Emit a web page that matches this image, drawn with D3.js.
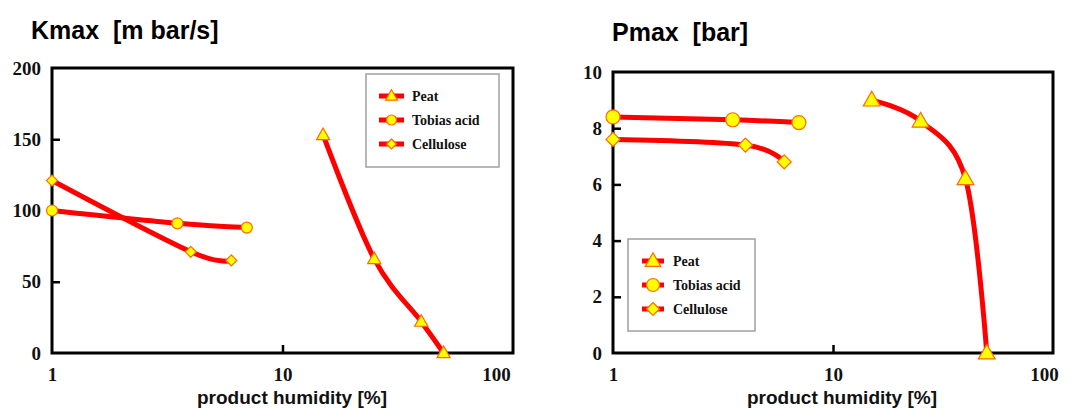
<!DOCTYPE html>
<html>
<head>
<meta charset="utf-8">
<script src="https://cdn.jsdelivr.net/npm/d3@7/dist/d3.min.js"></script>
<style>
  body { margin: 0; background: #fff; }
  svg text { white-space: pre; }
</style>
</head>
<body>
<div id="chart"></div>
<script>
// product humidity [%] per series
const humidityPeat = [15, 25, 40, 50];
const humidityTobias = [1, 3.5, 7];
const humidityCellulose = [1, 4, 6];
// Kmax [m bar/s]
const kmaxPeat = [153, 66, 22, 0];
const kmaxTobias = [100, 91, 88];
const kmaxCellulose = [121, 71, 65];
// Pmax [bar]
const pmaxPeat = [9.0, 8.25, 6.2, 0];
const pmaxTobias = [8.4, 8.3, 8.2];
const pmaxCellulose = [7.6, 7.4, 6.8];

const seriesNames = ["Peat", "Tobias acid", "Cellulose"];
const seriesMarkers = ["triangle", "circle", "diamond"];
const xTicks = [1, 10, 100];
const kmaxTicks = [0, 50, 100, 150, 200];
const pmaxTicks = [0, 2, 4, 6, 8, 10];

const svg = d3.select("#chart").append("svg").attr("width", 1075).attr("height", 408);

function markerPath(type, r) {
  if (type == "circle") return d3.symbol(d3.symbolCircle, Math.PI * r * r)();
  if (type == "diamond") return "M0," + (-r) + "L" + r + ",0L0," + r + "L" + (-r) + ",0Z";
  // triangle, apex up, a bit larger than the others
  r = r * 1.2;
  let h = r * 1.75;
  return "M0," + (-h * 0.6) + "L" + r + "," + (h * 0.4) + "L" + (-r) + "," + (h * 0.4) + "Z";
}

function drawChart(opt) {
  const g = svg.append("g");
  const x = d3.scaleLog().domain([1, 100]).range([opt.left, opt.right]);
  const y = d3.scaleLinear().domain(opt.yDomain).range([opt.bottom, opt.top]);

  g.append("text").attr("x", opt.titleX).attr("y", opt.titleY)
    .attr("font-family", "Liberation Sans, Arial").attr("font-weight", "bold")
    .attr("font-size", 25).text(opt.title);

  const yAxis = d3.axisLeft(y).tickValues(opt.yTicks).tickSizeInner(-8).tickSizeOuter(0)
    .tickPadding(11).tickFormat(d3.format("d"));
  const ya = g.append("g").attr("transform", "translate(" + opt.left + ",0)").call(yAxis);
  const xAxis = d3.axisBottom(x).tickValues(xTicks).tickSizeInner(-8).tickSizeOuter(0)
    .tickPadding(15).tickFormat(d3.format("d"));
  const xa = g.append("g").attr("transform", "translate(0," + opt.bottom + ")").call(xAxis);
  [ya, xa].forEach(a => {
    a.select(".domain").remove();
    a.selectAll(".tick line").attr("stroke", "#000").attr("stroke-width", 2.5);
    a.selectAll(".tick text").attr("font-family", "Liberation Serif, Times New Roman")
      .attr("font-weight", "bold").attr("font-size", 19).attr("fill", "#111");
  });
  xa.selectAll(".tick line").filter(d => d == 1 || d == 100).remove();
  xa.selectAll(".tick text").filter(d => d == 100).attr("dx", opt.lastLabelDx);
  ya.selectAll(".tick line").filter(d => d == opt.yDomain[0] || d == opt.yDomain[1]).remove();

  g.append("rect").attr("x", opt.left).attr("y", opt.top)
    .attr("width", opt.right - opt.left).attr("height", opt.bottom - opt.top)
    .attr("fill", "none").attr("stroke", "#000").attr("stroke-width", 3);

  g.append("text").attr("x", opt.xLabelX).attr("y", 404)
    .attr("text-anchor", "middle").attr("font-family", "Liberation Sans, Arial")
    .attr("font-weight", "bold").attr("font-size", 19).attr("fill", "#111")
    .text("product humidity [%]");

  const line = d3.line().x(d => x(d[0])).y(d => y(d[1])).curve(d3.curveCardinal.tension(0));
  opt.series.forEach((s, i) => {
    const pts = d3.zip(s.xs, s.ys);
    g.append("path").attr("d", line(pts)).attr("fill", "none")
      .attr("stroke", "#ff0000").attr("stroke-width", 5).attr("stroke-linejoin", "round");
    g.selectAll(null).data(pts).enter().append("path")
      .attr("transform", d => "translate(" + x(d[0]) + "," + y(d[1]) + ")")
      .attr("d", markerPath(seriesMarkers[i], opt.markerR))
      .attr("fill", "#ffff00").attr("stroke", "#ff6a00").attr("stroke-width", 1.2);
  });

  // legend
  const lg = g.append("g");
  lg.append("rect").attr("x", opt.legend.x).attr("y", opt.legend.y)
    .attr("width", opt.legend.w).attr("height", opt.legend.h)
    .attr("fill", "#fff").attr("stroke", "#a0a0a0").attr("stroke-width", 1.5);
  seriesNames.forEach((name, i) => {
    const ly = opt.legend.y + opt.legend.first + i * opt.legend.step;
    lg.append("line").attr("x1", opt.legend.lx1).attr("x2", opt.legend.lx2)
      .attr("y1", ly).attr("y2", ly).attr("stroke", "#ff0000").attr("stroke-width", 5);
    lg.append("path").attr("transform", "translate(" + (opt.legend.lx1 + opt.legend.lx2) / 2 + "," + ly + ")")
      .attr("d", markerPath(seriesMarkers[i], opt.legendR))
      .attr("fill", "#ffff00").attr("stroke", "#ff6a00").attr("stroke-width", 1.2);
    lg.append("text").attr("x", opt.legend.tx).attr("y", ly + 5)
      .attr("font-family", "Liberation Serif, Times New Roman").attr("font-weight", "bold")
      .attr("font-size", 14).attr("fill", "#111").text(name);
  });
}

drawChart({
  title: "Kmax  [m bar/s]", titleX: 31, titleY: 39,
  left: 52, right: 513, top: 68, bottom: 353,
  yDomain: [0, 200], yTicks: kmaxTicks, markerR: 5.5, legendR: 5, lastLabelDx: -17,
  xLabelX: 292,
  series: [
    { xs: humidityPeat, ys: kmaxPeat },
    { xs: humidityTobias, ys: kmaxTobias },
    { xs: humidityCellulose, ys: kmaxCellulose }
  ],
  legend: { x: 366, y: 74, w: 133, h: 93, first: 22, step: 24, lx1: 379, lx2: 404, tx: 412 }
});

drawChart({
  title: "Pmax  [bar]", titleX: 612, titleY: 41,
  left: 613, right: 1053, top: 72, bottom: 353,
  yDomain: [0, 10], yTicks: pmaxTicks, markerR: 7, legendR: 6.5, lastLabelDx: -9,
  xLabelX: 842,
  series: [
    { xs: humidityPeat, ys: pmaxPeat },
    { xs: humidityTobias, ys: pmaxTobias },
    { xs: humidityCellulose, ys: pmaxCellulose }
  ],
  legend: { x: 628, y: 239, w: 127, h: 92, first: 22, step: 24, lx1: 642, lx2: 664, tx: 673 }
});
</script>
</body>
</html>
